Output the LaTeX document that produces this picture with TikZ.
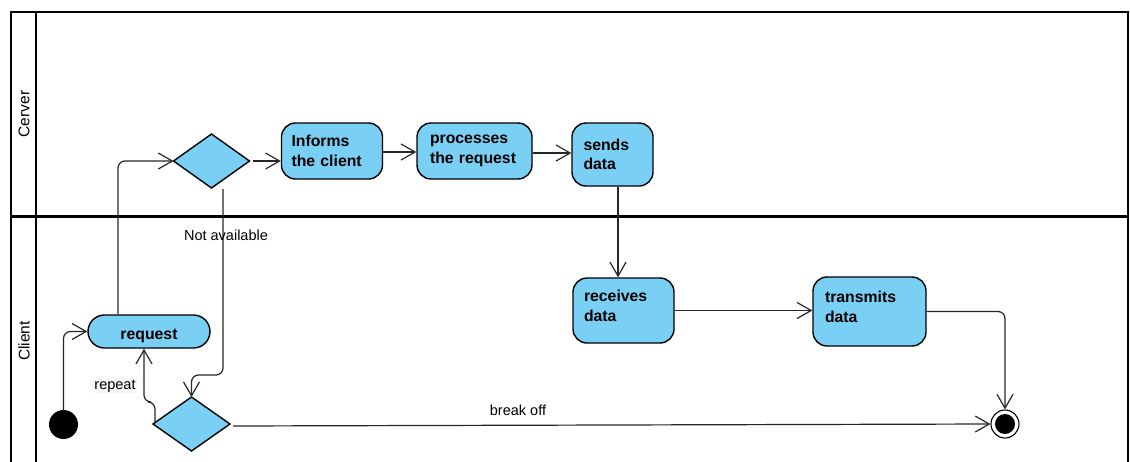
\documentclass[tikz,border=0pt]{standalone}
\usepackage{fontspec}
\setmainfont{Liberation Sans}
\usetikzlibrary{shapes.geometric,arrows.meta}
\definecolor{actfill}{HTML}{7ACFF4}
\begin{document}
\begin{tikzpicture}[x=1pt,y=-1pt,
  lane/.style={line width=2.8pt,black},
  act/.style={draw=black,line width=1.4pt,fill=actfill,rounded corners=14pt,
    inner xsep=0pt,inner ysep=0pt,align=left,
    font=\fontsize{15.8}{19.5}\selectfont\bfseries},
  decision/.style={draw=black,line width=1.4pt,fill=actfill,diamond,inner sep=0pt,outer sep=0pt},
  flow/.style={draw=black!85,line width=1.2pt,rounded corners=7pt,
    -{Straight Barb[length=14pt,width=16pt]}},
  lbl/.style={font=\fontsize{14.5}{17}\selectfont},
  lanelbl/.style={rotate=90,font=\fontsize{15.5}{18}\selectfont}]
\useasboundingbox (0,0) rectangle (1130,461);
\clip (0,0) rectangle (1130,461);

% swimlane frame
\draw[lane] (11,480) -- (11,12) -- (1128,12) -- (1128,480);
\draw[lane] (36,12) -- (36,480);
\draw[lane] (11,216.5) -- (1128,216.5);
\node[lanelbl] (laneS) at (24,114) {Cerver};
\node[lanelbl] (laneC) at (24,341) {Client};

% activities
\node[act,minimum width=101pt,minimum height=56pt,text width=81pt] (inf) at (332,151) {Informs\\the client};
\node[act,minimum width=115pt,minimum height=56pt,text width=89pt] (proc) at (474.5,151) {processes\\the request};
\node[act,minimum width=81pt,minimum height=63pt,text width=58pt] (send) at (612.5,154.5) {sends\\data};
\node[act,minimum width=101pt,minimum height=65pt,text width=79pt,text depth=29pt] (recv) at (623.5,310.5) {receives\\data};
\node[act,minimum width=113pt,minimum height=69pt,text width=89pt,text depth=29pt] (trans) at (869.5,311.5) {transmits\\data};
\node[act,rounded corners=16.5pt,align=center,minimum width=122pt,minimum height=33pt,text height=19pt,text depth=3pt] (req) at (149,331.5) {request};

% decisions
\node[decision,minimum width=76pt,minimum height=54pt] (d1) at (211.5,161) {};
\node[decision,minimum width=77pt,minimum height=54pt] (d2) at (191.5,424) {};

% initial and final nodes
\node[circle,fill=black,minimum size=29pt,inner sep=0pt] (init) at (63.5,424.5) {};
\node[circle,draw=black,line width=1.1pt,fill=white,minimum size=28pt,inner sep=0pt] (fin) at (1005,424) {};
\fill[black] (fin.center) circle (10pt);

% control flows
\draw[flow] (init.north) |- (req.west);
\draw[flow] ([xshift=-31pt]req.north) |- (d1.west);
\draw[flow] ([xshift=3pt]d1.east) -- (inf.west |- d1.east);
\draw[flow] ([yshift=-1pt]inf.east) -- ([yshift=-1pt]inf.east -| proc.west);
\draw[flow] ([yshift=-2pt]proc.east) -- ([yshift=-2pt]proc.east -| send.west);
\draw[flow] ([xshift=5.5pt]send.south) -- ([xshift=5.5pt]send.south |- recv.north);
\draw[flow] (recv.east) -- (recv.east -| trans.west);
\draw[flow] (trans.east) -| (fin.north);
\draw[flow] ([xshift=11.5pt,yshift=-1pt]d1.south) -- ++(0,186) -| (d2.north);
\draw[flow] ([xshift=2pt,yshift=2pt]d2.west) -- ++(0,-20) -| ([xshift=-5pt]req.south);
\draw[flow] ([xshift=3pt,yshift=-2pt]d2.east) -- (fin.west);

% guard labels
\node[lbl] (na) at (226,235) {Not available};
\node[lbl,fill=black!3,inner sep=1pt] (rep) at (115,386) {repeat};
\node[lbl] (brk) at (518,410) {break off};
\end{tikzpicture}
\end{document}
